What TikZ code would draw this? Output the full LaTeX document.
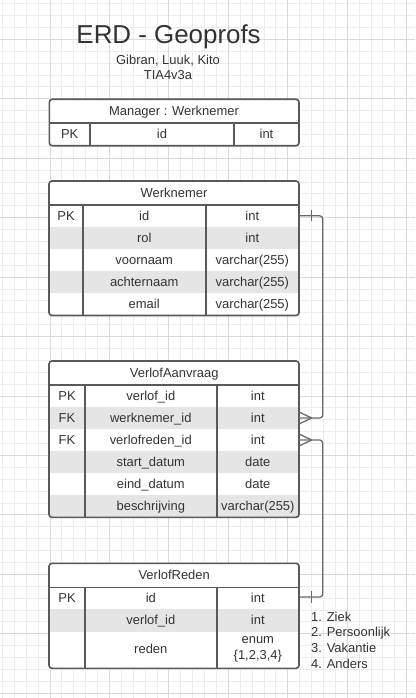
\documentclass[tikz,border=0pt]{standalone}
\usepackage{fontspec}
\setmainfont{Liberation Sans}
\usetikzlibrary{calc}

\definecolor{gridminor}{HTML}{EDEDED}
\definecolor{gridmajor}{HTML}{DADADA}
\definecolor{boxline}{HTML}{595959}
\definecolor{rowshade}{HTML}{E5E5E5}
\definecolor{txtgray}{HTML}{333333}
\definecolor{linkgray}{HTML}{6A6A6A}

\tikzset{
  cell/.style={font=\fontsize{13}{15.6}\selectfont, text=txtgray, inner sep=0pt, text height=10bp, text depth=2bp},
  tblborder/.style={draw=boxline, line width=1.6bp, rounded corners=3bp},
  tblrule/.style={draw=boxline, line width=1.6bp},
  rel/.style={draw=linkgray, line width=1.3bp, rounded corners=3bp},
  relmark/.style={draw=linkgray, line width=1.3bp},
}

\begin{document}
\begin{tikzpicture}[x=1bp, y=-1bp]
\useasboundingbox (0,0) rectangle (415,698);
\fill[white] (0,0) rectangle (415,698);

% grid
\foreach \i in {-4,...,30} \draw[gridminor, line width=0.9bp] ({50+11.89*\i},0) -- ({50+11.89*\i},698);
\foreach \j in {-3,...,55} \draw[gridminor, line width=0.9bp] (0,{39.3+11.89*\j}) -- (415,{39.3+11.89*\j});
\foreach \i in {0,...,6} \draw[gridmajor, line width=0.9bp] ({50+59.45*\i},0) -- ({50+59.45*\i},698);
\foreach \j in {0,...,11} \draw[gridmajor, line width=0.9bp] (0,{39.3+59.45*\j}) -- (415,{39.3+59.45*\j});

% title
\node[font=\fontsize{26}{30}\selectfont, text=txtgray, anchor=base] (title) at (168.6,43.3) {ERD - Geoprofs};
\node[cell, text height=, text depth=, anchor=base] (authors) at (168,65) {Gibran, Luuk, Kito};
\node[cell, text height=, text depth=, anchor=base] (klas) at (168,80) {TIA4v3a};

% Manager : Werknemer
\fill[white, rounded corners=3bp] (49.3,99.3) rectangle (299,145.7);
\draw[tblrule] (49.3,123.3) -- (299,123.3) (90,123.3) -- (90,145.7) (234,123.3) -- (234,145.7);
\draw[tblborder] (49.3,99.3) rectangle (299,145.7);
\node[cell] (mgr) at (174,111.3) {Manager : Werknemer};
\node[cell] (mgr-k1) at (69.7,134.5) {PK};
\node[cell] (mgr-f1) at (162,134.5) {id};
\node[cell] (mgr-t1) at (266.5,134.5) {int};

% Werknemer
\begin{scope}
\clip[rounded corners=3bp] (49,181) rectangle (299,315.5);
\fill[white] (49,181) rectangle (299,315.5);
\foreach \r in {2,4} \fill[rowshade] (49,{205+22.1*(\r-1)}) rectangle (299,{205+22.1*\r});
\end{scope}
\draw[tblrule] (49,205) -- (299,205) (82.7,205) -- (82.7,315.5) (205.7,205) -- (205.7,315.5);
\draw[tblborder] (49,181) rectangle (299,315.5);
\node[cell] (wn) at (174,193) {Werknemer};
\foreach \k/\f/\t [count=\r] in {PK/id/int, /rol/int, /voornaam/varchar(255), /achternaam/varchar(255), /email/varchar(255)} {
  \node[cell] (wn-k\r) at (66,{205+22.1*(\r-.5)}) {\k};
  \node[cell] (wn-f\r) at (144.2,{205+22.1*(\r-.5)}) {\f};
  \node[cell] (wn-t\r) at (252.3,{205+22.1*(\r-.5)}) {\t};
}

% VerlofAanvraag
\begin{scope}
\clip[rounded corners=3bp] (49,361) rectangle (299,517.3);
\fill[white] (49,361) rectangle (299,517.3);
\foreach \r in {2,4,6} \fill[rowshade] (49,{385+22.05*(\r-1)}) rectangle (299,{385+22.05*\r});
\end{scope}
\draw[tblrule] (49,385) -- (299,385) (85,385) -- (85,517.3) (216.7,385) -- (216.7,517.3);
\draw[tblborder] (49,361) rectangle (299,517.3);
\node[cell] (va) at (174.2,373) {VerlofAanvraag};
\foreach \k/\f/\t [count=\r] in {PK/verlof\_id/int, FK/werknemer\_id/int, FK/verlofreden\_id/int, /start\_datum/date, /eind\_datum/date, /beschrijving/varchar(255)} {
  \node[cell] (va-k\r) at (67,{385+22.05*(\r-.5)}) {\k};
  \node[cell] (va-f\r) at (150.8,{385+22.05*(\r-.5)}) {\f};
  \node[cell] (va-t\r) at (257.8,{385+22.05*(\r-.5)}) {\t};
}

% VerlofReden
\begin{scope}
\clip[rounded corners=3bp] (49,563.3) rectangle (299,668.3);
\fill[white] (49,563.3) rectangle (299,668.3);
\fill[rowshade] (49,609.3) rectangle (299,631.5);
\end{scope}
\draw[tblrule] (49,587.3) -- (299,587.3) (85,587.3) -- (85,668.3) (216.7,587.3) -- (216.7,668.3);
\draw[tblborder] (49,563.3) rectangle (299,668.3);
\node[cell] (rd) at (174.2,575.3) {VerlofReden};
\node[cell] (rd-k1) at (67,598.3) {PK};
\node[cell] (rd-f1) at (150.8,598.3) {id};
\node[cell] (rd-t1) at (257.8,598.3) {int};
\node[cell] (rd-f2) at (150.8,620.4) {verlof\_id};
\node[cell] (rd-t2) at (257.8,620.4) {int};
\node[cell] (rd-f3) at (150.8,649) {reden};
\node[cell] (rd-t3) at (257.8,639.5) {enum};
\node[cell] (rd-t3b) at (257.8,655) {\{1,2,3,4\}};

% reden options
\foreach \nr/\w [count=\i] in {1/Ziek, 2/Persoonlijk, 3/Vakantie, 4/Anders}
  \node[cell, anchor=west] (opt\i) at (311,{601.7+15.6*\i}) {\nr. \w};

% relations
\coordinate (wn-r1) at (299,215.8);
\coordinate (va-r2) at (299,418);
\coordinate (va-r3) at (299,440);
\coordinate (rd-r1) at (299,597);

\draw[rel] (wn-r1) -- ++(23.7,0) |- (va-r2);
\draw[relmark] ($(wn-r1)+(12.7,-5.5)$) -- ++(0,11);
\draw[relmark] ($(va-r2)+(12.7,0)$) -- ($(va-r2)+(0,-6)$) ($(va-r2)+(12.7,0)$) -- ($(va-r2)+(0,6)$);

\draw[rel] (va-r3) -- ++(23.7,0) |- (rd-r1);
\draw[relmark] ($(va-r3)+(12.7,0)$) -- ($(va-r3)+(0,-6)$) ($(va-r3)+(12.7,0)$) -- ($(va-r3)+(0,6)$);
\draw[relmark] ($(rd-r1)+(12.7,-6)$) -- ++(0,12);

\end{tikzpicture}
\end{document}
